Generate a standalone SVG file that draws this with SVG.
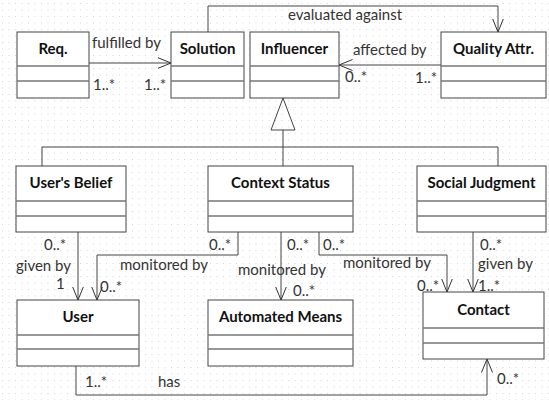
<svg xmlns="http://www.w3.org/2000/svg" width="549" height="400" viewBox="0 0 549 400">
<defs>
<pattern id="grid" x="2" y="3" width="6.5" height="6.5" patternUnits="userSpaceOnUse">
<rect x="0" y="0" width="1" height="1" fill="#d4d4d4"/>
</pattern>
<marker id="open" viewBox="0 0 14 12" refX="13.5" refY="6" markerWidth="14" markerHeight="12" markerUnits="userSpaceOnUse" orient="auto">
<path d="M0,0.5 L13.5,6 L0,11.5" fill="none" stroke="#333" stroke-width="1"/>
</marker>
<style>
.box{fill:#fff;stroke:#444;stroke-width:1}
.sep{stroke:#777;stroke-width:1.5}
.title{font-family:Lato,"Liberation Sans",sans-serif;font-weight:bold;font-size:15px;fill:#111;text-anchor:middle}
.lbl{font-family:Lato,"Liberation Sans",sans-serif;font-size:15px;fill:#333}
.c{fill:none;stroke:#444;stroke-width:1}
.a{marker-end:url(#open)}
</style>
</defs>
<rect width="549" height="400" fill="#fff"/>
<rect width="549" height="400" fill="url(#grid)"/>

<g id="connectors">
<path class="c a" d="M89,63 H171"/>
<path class="c a" d="M208,32 V6 H498 V32"/>
<path class="c a" d="M441,65 H339"/>
<path class="c" d="M283,98 L295,130 H271 Z" fill="#fff"/>
<path class="c" d="M283,130 V166 M42,166 V147 H498 V166"/>
<path class="c a" d="M78,232 V300"/>
<path class="c a" d="M238,232 V255 H97 V300"/>
<path class="c a" d="M281,232 V300"/>
<path class="c a" d="M319,232 V255 H447 V292"/>
<path class="c a" d="M473,232 V292"/>
<path class="c a" d="M76,366 V395 H487 V359"/>
</g>

<g id="labels">
<text class="lbl" x="92" y="48">fulfilled by</text>
<text class="lbl" x="93" y="90">1..*</text>
<text class="lbl" x="144" y="90">1..*</text>
<text class="lbl" x="288" y="20">evaluated against</text>
<text class="lbl" x="353" y="55">affected by</text>
<text class="lbl" x="345" y="82">0..*</text>
<text class="lbl" x="415" y="83">1..*</text>
<text class="lbl" x="44" y="250">0..*</text>
<text class="lbl" x="16" y="271">given by</text>
<text class="lbl" x="56" y="289">1</text>
<text class="lbl" x="209" y="250">0..*</text>
<text class="lbl" x="120" y="270">monitored by</text>
<text class="lbl" x="100" y="292">0..*</text>
<text class="lbl" x="287" y="250">0..*</text>
<text class="lbl" x="238" y="275">monitored by</text>
<text class="lbl" x="293" y="296">0..*</text>
<text class="lbl" x="323" y="250">0..*</text>
<text class="lbl" x="343" y="268">monitored by</text>
<text class="lbl" x="417" y="291">0..*</text>
<text class="lbl" x="480" y="250">0..*</text>
<text class="lbl" x="478" y="269">given by</text>
<text class="lbl" x="478" y="291">1..*</text>
<text class="lbl" x="85" y="387">1..*</text>
<text class="lbl" x="158" y="387">has</text>
<text class="lbl" x="497" y="384">0..*</text>
</g>

<g id="req">
<rect class="box" x="17" y="32" width="72" height="66"/>
<path class="sep" d="M17,66 H89 M17,81 H89"/>
<text class="title" x="53" y="54">Req.</text>
</g>
<g id="solution">
<rect class="box" x="171" y="32" width="73" height="66"/>
<path class="sep" d="M171,66 H244 M171,81 H244"/>
<text class="title" x="207.5" y="54">Solution</text>
</g>
<g id="influencer">
<rect class="box" x="250" y="32" width="89" height="66"/>
<path class="sep" d="M250,66 H339 M250,81 H339"/>
<text class="title" x="294.5" y="54">Influencer</text>
</g>
<g id="quality">
<rect class="box" x="441" y="32" width="105" height="66"/>
<path class="sep" d="M441,66 H546 M441,81 H546"/>
<text class="title" x="493.5" y="54">Quality Attr.</text>
</g>
<g id="usersbelief">
<rect class="box" x="16" y="166" width="110" height="66"/>
<path class="sep" d="M16,201 H126 M16,216 H126"/>
<text class="title" x="71" y="188">User's Belief</text>
</g>
<g id="contextstatus">
<rect class="box" x="208" y="166" width="145" height="66"/>
<path class="sep" d="M208,201 H353 M208,216 H353"/>
<text class="title" x="280.5" y="188">Context Status</text>
</g>
<g id="socialjudgment">
<rect class="box" x="417" y="166" width="129" height="66"/>
<path class="sep" d="M417,201 H546 M417,216 H546"/>
<text class="title" x="481.5" y="188">Social Judgment</text>
</g>
<g id="user">
<rect class="box" x="17" y="300" width="122" height="66"/>
<path class="sep" d="M17,335 H139 M17,349 H139"/>
<text class="title" x="78" y="322">User</text>
</g>
<g id="automatedmeans">
<rect class="box" x="208" y="300" width="145" height="66"/>
<path class="sep" d="M208,335 H353 M208,349 H353"/>
<text class="title" x="280.5" y="322">Automated Means</text>
</g>
<g id="contact">
<rect class="box" x="423" y="292" width="121" height="67"/>
<path class="sep" d="M423,328 H544 M423,343 H544"/>
<text class="title" x="483.5" y="315">Contact</text>
</g>
</svg>
